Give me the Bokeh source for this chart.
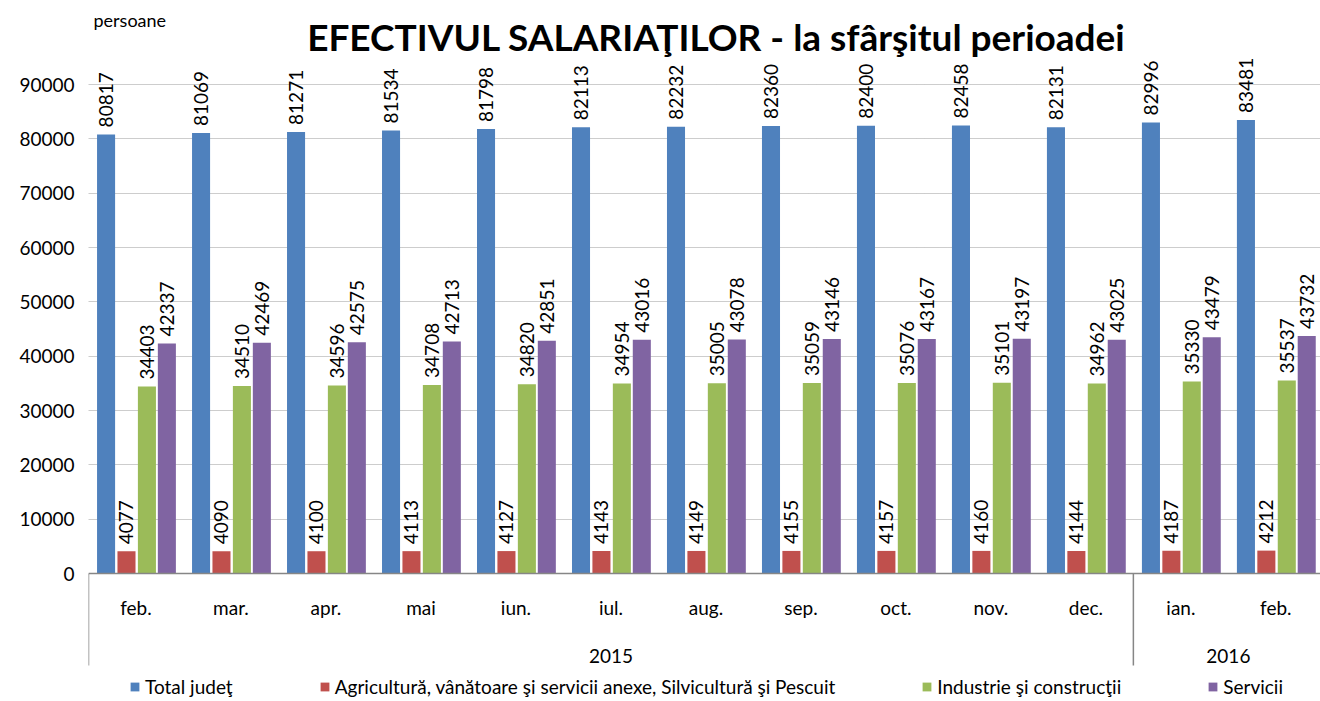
import math
from bokeh.plotting import figure
from bokeh.models import (Range1d, FixedTicker, Label, Legend, LegendItem, Span,
                          ColumnDataSource, NumeralTickFormatter)
from bokeh.core.properties import value
from bokeh.embed import file_html
from bokeh.resources import INLINE

# ---- data ----
months = ["feb.", "mar.", "apr.", "mai", "iun.", "iul.", "aug.", "sep.", "oct.", "nov.", "dec.", "ian.", "feb."]
years = ["2015"] * 11 + ["2016"] * 2
total = [80817, 81069, 81271, 81534, 81798, 82113, 82232, 82360, 82400, 82458, 82131, 82996, 83481]
agri = [4077, 4090, 4100, 4113, 4127, 4143, 4149, 4155, 4157, 4160, 4144, 4187, 4212]
ind = [34403, 34510, 34596, 34708, 34820, 34954, 35005, 35059, 35076, 35101, 34962, 35330, 35537]
serv = [42337, 42469, 42575, 42713, 42851, 43016, 43078, 43146, 43167, 43197, 43025, 43479, 43732]
series_names = ["Total judeţ", "Agricultură, vânătoare şi servicii anexe, Silvicultură şi Pescuit",
                "Industrie şi construcţii", "Servicii"]
series_vals = [total, agri, ind, serv]
colors = ["#4F81BD", "#C0504D", "#9BBB59", "#8064A2"]
title_text = "EFECTIVUL SALARIAŢILOR - la sfârşitul perioadei"
unit_text = "persoane"
yticks = list(range(0, 90001, 10000))

# ---- layout ----
FONT = "Lato"
W, H = 1320, 700
LEFT = 88
y0_screen, y90_screen = 573, 84
upp = 90000 / (y0_screen - y90_screen)       # data units per pixel
y_start = -(H - y0_screen) * upp
y_end = 90000 + y90_screen * upp

def ydata(screen_y):
    return -(screen_y - y0_screen) * upp

n = len(months)
x_end = n - 0.03
def xdata(screen_x):
    return (screen_x - LEFT) / ((W - LEFT) / x_end)

p = figure(width=W, height=H, x_range=Range1d(0, x_end), y_range=Range1d(y_start, y_end),
           output_backend="svg", toolbar_location=None,
           min_border_left=LEFT, min_border_right=0, min_border_top=0, min_border_bottom=0)
p.outline_line_color = None
p.xaxis.visible = False
p.xgrid.visible = False
p.yaxis.ticker = FixedTicker(ticks=yticks)
p.yaxis.formatter = NumeralTickFormatter(format="0")
p.yaxis.axis_line_color = None
p.yaxis.major_tick_line_color = None
p.yaxis.minor_tick_line_color = None
p.yaxis.major_label_text_font = FONT
p.yaxis.major_label_text_font_size = "19px"
p.yaxis.major_label_text_color = "#000000"
p.yaxis.major_label_standoff = 8
p.ygrid.ticker = FixedTicker(ticks=yticks[1:])
p.ygrid.grid_line_color = "#9a9a9a"
p.ygrid.grid_line_dash = "1 1"
p.ygrid.grid_line_width = 1

offsets = [-0.315, -0.1, 0.115, 0.325]
bar_w = 0.19
renderers = []
for vals, c, off in zip(series_vals, colors, offsets):
    src = ColumnDataSource(dict(x=[i + 0.5 + off for i in range(n)], top=vals,
                                lab=[str(v) for v in vals]))
    r = p.vbar(x="x", top="top", width=bar_w, source=src, fill_color=c, line_color=None)
    renderers.append(r)
    p.text(x="x", y="top", text="lab", source=src, angle=math.pi / 2,
           text_align="left", text_baseline="middle", y_offset=-7,
           text_font=value(FONT), text_font_size="19px", text_color="#000000")

# axis line at 0
p.add_layout(Span(location=0, dimension="width", line_color="#868686", line_width=1.5))

# category labels
cat_src = ColumnDataSource(dict(x=[i + 0.5 for i in range(n)], y=[0] * n, t=months))
p.text(x="x", y="y", text="t", source=cat_src, y_offset=34, text_align="center",
       text_baseline="middle", text_font=value(FONT), text_font_size="19px", text_color="#000000")

# year groups
groups = []
for i, yv in enumerate(years):
    if not groups or groups[-1][0] != yv:
        groups.append([yv, i, i + 1])
    else:
        groups[-1][2] = i + 1
yr_src = ColumnDataSource(dict(x=[(g[1] + g[2]) / 2 for g in groups], y=[0] * len(groups),
                               t=[g[0] for g in groups]))
p.text(x="x", y="y", text="t", source=yr_src, y_offset=82, text_align="center",
       text_baseline="middle", text_font=value(FONT), text_font_size="19px", text_color="#000000")
sep_x = [g[1] for g in groups]
p.segment(x0=sep_x, y0=[0] * len(sep_x), x1=sep_x, y1=[ydata(665)] * len(sep_x),
          line_color="#868686", line_width=1.5)

# title and unit
p.add_layout(Label(x=xdata(716), y=ydata(36), text=title_text,
                   text_align="center", text_baseline="middle", text_font=FONT,
                   text_font_style="bold", text_font_size="37px", text_color="#000000"))
p.add_layout(Label(x=xdata(93), y=ydata(19), text=unit_text, text_align="left",
                   text_baseline="middle", text_font=FONT, text_font_size="18px",
                   text_color="#000000"))

legend = Legend(items=[LegendItem(label=nm, renderers=[r]) for nm, r in zip(series_names, renderers)],
                orientation="horizontal", location=(41, 2), spacing=86, padding=0, margin=0,
                glyph_width=11, glyph_height=11, label_standoff=5, label_height=20,
                label_text_font=FONT, label_text_font_size="19px", label_text_color="#000000",
                border_line_color=None, background_fill_alpha=0)
p.add_layout(legend)

open("out.html", "w").write(file_html(p, INLINE))
